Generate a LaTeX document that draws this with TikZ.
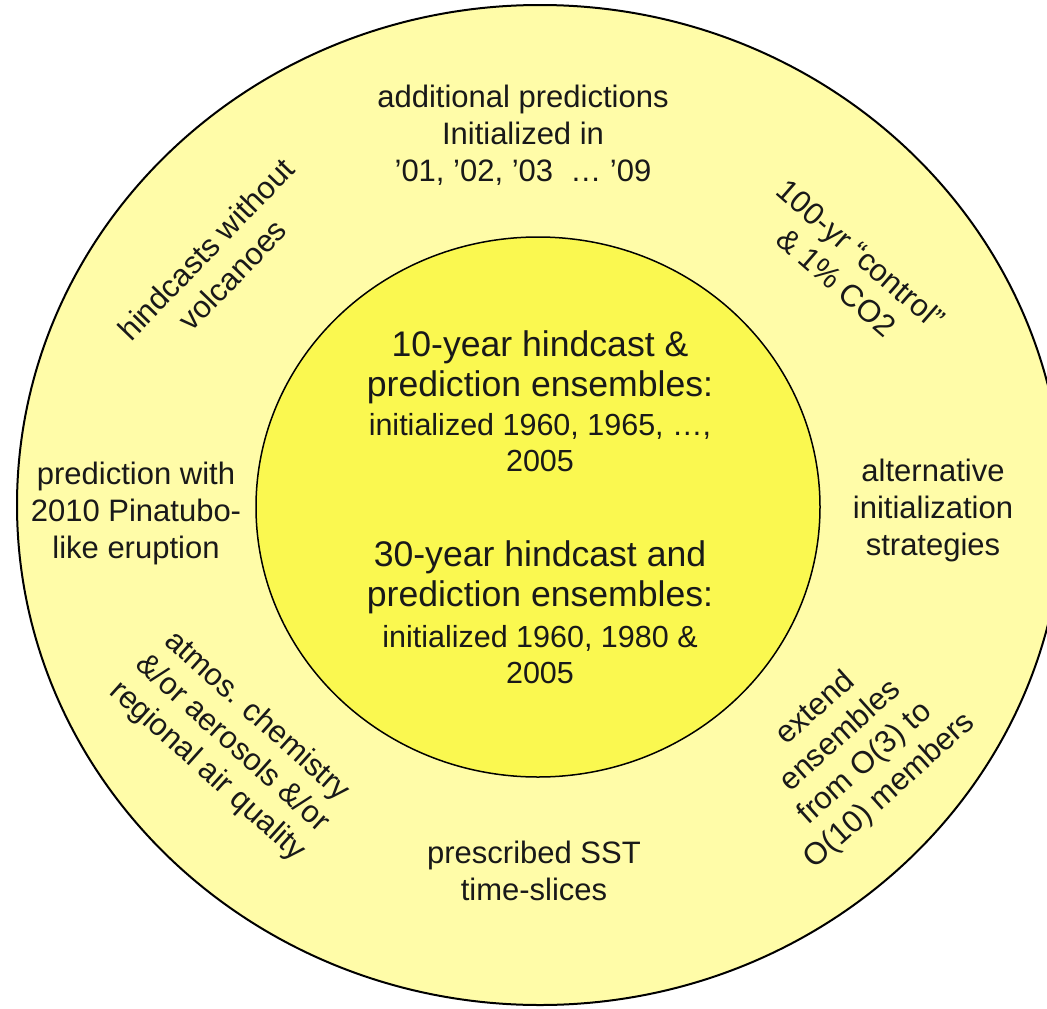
\documentclass[tikz,border=0pt]{standalone}
\usepackage{fontspec}
\setmainfont{Liberation Sans}
\usetikzlibrary{shapes.geometric}
\definecolor{outerfill}{RGB}{255,252,168}
\definecolor{innerfill}{RGB}{250,248,80}
\definecolor{ink}{RGB}{25,25,25}
\begin{document}
\begin{tikzpicture}[x=1pt,y=-1pt,
  lbl/.style={align=center,text=ink,inner sep=0pt,font=\fontsize{31}{37}\selectfont},
  sub/.style={align=center,text=ink,inner sep=0pt,font=\fontsize{30.5}{36}\selectfont},
  big/.style={align=center,text=ink,inner sep=0pt,font=\fontsize{35.6}{40}\selectfont},
  ring/.style={ellipse,draw=black,inner sep=0pt}]
\useasboundingbox (0,0) rectangle (1047,1009);
\fill[white] (0,0) rectangle (1047,1009);
\node[ring,fill=outerfill,line width=2pt,minimum width=1046pt,minimum height=1000pt] (outer) at (540,505) {};
\node[ring,fill=innerfill,line width=1.5pt,minimum width=564pt,minimum height=540pt] (inner) at (538,507) {};

\node[big] (t1) at (540,367) {10-year hindcast \&\\prediction ensembles:};
\node[sub] (s1) at (540,443) {initialized 1960, 1965, …,\\2005};
\node[big] (t2) at (540,577) {30-year hindcast and\\prediction ensembles:};
\node[sub] (s2) at (540,655) {initialized 1960, 1980 \&\\2005};

\node[lbl] (top) at (523,135) {additional predictions\\Initialized in\\'01, '02, '03 \ … '09};
\node[lbl,rotate=46] (ul) at (219,262) {hindcasts without\\volcanoes};
\node[lbl,rotate=-41] (ur) at (849,268) {100-yr “control”\\\& 1\% CO2};
\node[lbl] (left) at (136,513) {prediction with\\2010 Pinatubo-\\like eruption};
\node[lbl] (right) at (933,510) {alternative\\initialization\\strategies};
\node[lbl,rotate=-42] (ll) at (232,744) {atmos. chemistry\\\&/or aerosols \&/or\\regional air quality};
\node[lbl,rotate=42] (lr) at (853,750) {extend\\ensembles\\from O(3) to\\O(10) members};
\node[lbl] (bot) at (534,871) {prescribed SST\\time-slices};
\end{tikzpicture}
\end{document}
